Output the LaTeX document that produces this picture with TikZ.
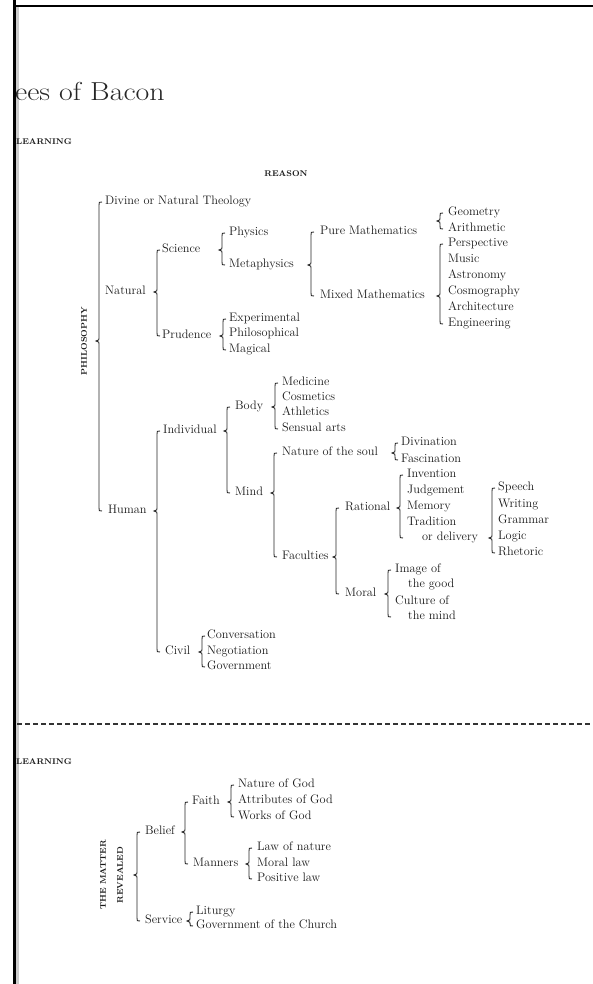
\documentclass[tikz,border=0pt]{standalone}
\usepackage{fontspec}
\usetikzlibrary{calc}
\newcommand\brk[4]{%
 \draw[brl] let \p1=(#3.west), \p2=(#4.west), \p3=(#2.center) in
 ({#1pt+3pt},\y1) .. controls (#1pt,\y1) .. (#1pt,{\y1-3pt})
 -- (#1pt,{\y3+2.5pt}) .. controls (#1pt,{\y3+1pt}) .. ({#1pt-3pt},\y3)
 .. controls (#1pt,{\y3-1pt}) .. (#1pt,{\y3-2.5pt})
 -- (#1pt,{\y2+3pt}) .. controls (#1pt,\y2) .. ({#1pt+3pt},\y2);}
\tikzset{
 lbl/.style={anchor=west, inner sep=0pt, text=black!90, font=\fontsize{12.3}{14}\selectfont, text height=5.5pt, text depth=0pt},
 capl/.style={inner sep=0pt, text=black!90, font=\fontsize{8.3}{9}\selectfont\bfseries\addfontfeature{LetterSpace=14}},
 brl/.style={draw=black!85, line width=0.9pt},
}
\begin{document}
\begin{tikzpicture}[x=1pt,y=-1pt]
\useasboundingbox (0,0) rectangle (593,984);
% frame
\fill[black!20] (16,7) rectangle (19,984);
\draw[line width=3pt] (14.5,0) -- (14.5,984);
\draw[line width=2pt] (13,6) -- (593,6);
% headings
\node[anchor=base west, inner sep=0pt, text=black!85, font=\fontsize{26}{30}\selectfont] (title) at (15,101) {\scalebox{1.15}[1]{ees of Bacon}};
\node[capl, anchor=west] (learn1) at (16,142) {LEARNING};
\node[capl] (reason) at (286,174) {REASON};
% Philosophy tree
\node[capl, rotate=90] (philo) at (84,341) {PHILOSOPHY};
\node[lbl] (divine) at (105,202) {Divine or Natural Theology};
\node[lbl] (natural) at (105,292) {Natural};
\node[lbl] (human) at (108,511) {Human};
\brk{99}{philo}{divine}{human}
\node[lbl] (science) at (162,250) {Science};
\node[lbl] (prudence) at (162,336) {Prudence};
\brk{157}{natural}{science}{prudence}
\node[lbl] (physics) at (229,233) {Physics};
\node[lbl] (metaph) at (229,265) {Metaphysics};
\brk{222}{science}{physics}{metaph}
\node[lbl] (pure) at (320,232) {Pure Mathematics};
\node[lbl] (mixed) at (320,296) {Mixed Mathematics};
\brk{311}{metaph}{pure}{mixed}
\coordinate (pcusp) at (440,221);
\node[lbl] (geom) at (448,213) {Geometry};
\node[lbl] (arith) at (448,229) {Arithmetic};
\brk{440}{pcusp}{geom}{arith}
\node[lbl] (persp) at (448,244) {Perspective};
\node[lbl] (music) at (448,260) {Music};
\node[lbl] (astro) at (448,276) {Astronomy};
\node[lbl] (cosmo) at (448,292) {Cosmography};
\node[lbl] (archi) at (448,308) {Architecture};
\node[lbl] (engin) at (448,324) {Engineering};
\brk{440}{mixed}{persp}{engin}
\node[lbl] (exper) at (229,319) {Experimental};
\node[lbl] (philos) at (229,334) {Philosophical};
\node[lbl] (magic) at (229,350) {Magical};
\brk{223}{prudence}{exper}{magic}
\node[lbl] (indiv) at (163,431) {Individual};
\node[lbl] (civil) at (165,652) {Civil};
\brk{157}{human}{indiv}{civil}
\node[lbl] (body) at (235,407) {Body};
\node[lbl] (mind) at (235,493) {Mind};
\brk{227}{indiv}{body}{mind}
\node[lbl] (medic) at (282,383) {Medicine};
\node[lbl] (cosmet) at (282,398) {Cosmetics};
\node[lbl] (athl) at (282,413) {Athletics};
\node[lbl] (sens) at (282,429) {Sensual arts};
\brk{275}{body}{medic}{sens}
\node[lbl] (soul) at (282,453) {Nature of the soul};
\node[lbl] (facul) at (282,557) {Faculties};
\brk{274}{mind}{soul}{facul}
\node[lbl] (divin) at (401,443) {Divination};
\node[lbl] (fasc) at (401,460) {Fascination};
\brk{395}{soul}{divin}{fasc}
\node[lbl] (ration) at (345,508) {Rational};
\node[lbl] (moral) at (345,594) {Moral};
\brk{336}{facul}{ration}{moral}
\node[lbl] (invent) at (407,475) {Invention};
\node[lbl] (judge) at (407,491) {Judgement};
\node[lbl] (memory) at (407,507) {Memory};
\node[lbl] (trad) at (407,523) {Tradition};
\node[lbl] (trad2) at (422,538) {or delivery};
\brk{400}{ration}{invent}{trad2}
\node[lbl] (speech) at (498,488) {Speech};
\node[lbl] (writ) at (498,505) {Writing};
\node[lbl] (gramm) at (498,521) {Grammar};
\node[lbl] (logic) at (498,537) {Logic};
\node[lbl] (rhet) at (498,553) {Rhetoric};
\brk{492}{trad2}{speech}{rhet}
\node[lbl] (img1) at (395,570) {Image of};
\node[lbl] (img2) at (408,585) {the good};
\node[lbl] (cul1) at (395,602) {Culture of};
\node[lbl] (cul2) at (408,617) {the mind};
\brk{388}{moral}{img1}{cul2}
\node[lbl] (conv) at (207,636) {Conversation};
\node[lbl] (nego) at (207,652) {Negotiation};
\node[lbl] (govt) at (207,667) {Government};
\brk{202}{civil}{conv}{govt}
% divider
\draw[black!80, line width=1.6pt, dash pattern=on 5pt off 3pt] (17,724) -- (593,724);
% Divine learning tree
\node[capl, anchor=west] (learn2) at (16,762) {LEARNING};
\node[capl, rotate=90] (matter1) at (103,875) {THE MATTER};
\node[capl, rotate=90] (matter2) at (120,875) {REVEALED};
\node[lbl] (belief) at (145,832) {Belief};
\node[lbl] (service) at (145,921) {Service};
\brk{137}{matter1}{belief}{service}
\node[lbl] (faith) at (192,802) {Faith};
\node[lbl] (manners) at (193,864) {Manners};
\brk{185}{belief}{faith}{manners}
\node[lbl] (natgod) at (238,785) {Nature of God};
\node[lbl] (attgod) at (238,801) {Attributes of God};
\node[lbl] (wrkgod) at (238,817) {Works of God};
\brk{231}{faith}{natgod}{wrkgod}
\node[lbl] (lawnat) at (257,848) {Law of nature};
\node[lbl] (morlaw) at (257,864) {Moral law};
\node[lbl] (poslaw) at (257,879) {Positive law};
\brk{249}{manners}{lawnat}{poslaw}
\node[lbl] (litur) at (196,912) {Liturgy};
\node[lbl] (govch) at (196,926) {Government of the Church};
\brk{190}{service}{litur}{govch}
\end{tikzpicture}
\end{document}
